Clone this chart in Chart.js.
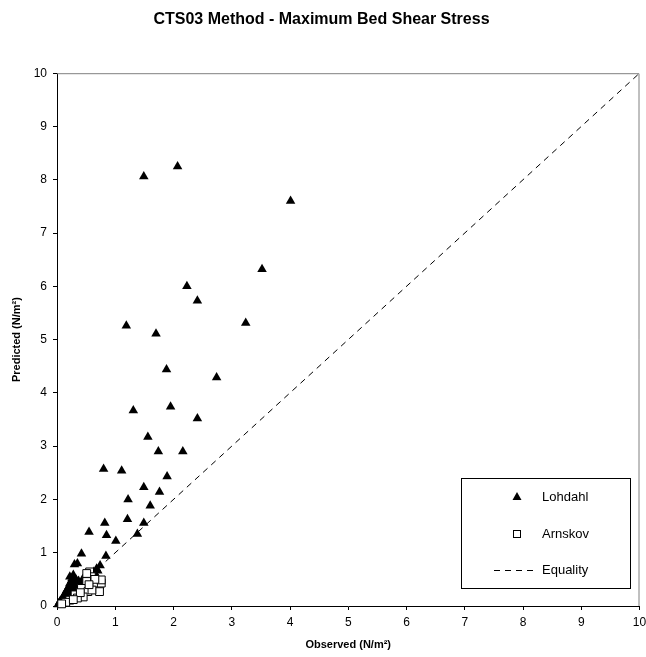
<!DOCTYPE html>
<html lang="en">
<head>
    <meta charset="UTF-8">
    <title>CTS03 Method - Maximum Bed Shear Stress</title>
    <style>
        body {
            margin: 0;
            padding: 0;
            background-color: #ffffff;
        }
        canvas {
            display: block;
        }
    </style>
</head>
<body>
    <canvas id="shearChart" width="646" height="657"></canvas>

    <script src="https://cdn.jsdelivr.net/npm/chart.js"></script>
    <script>
        // Lohdahl series (observed, predicted) in N/m2
        const lohdahlObserved = [
            1.49, 2.07, 4.01, 3.52, 2.23, 2.41, 1.19, 1.70, 3.24, 1.88,
            2.74, 1.31, 1.95, 2.41, 1.56, 1.74, 2.16, 0.80, 1.11, 1.89,
            1.49, 1.76, 1.22, 1.60, 0.82, 1.21, 1.49, 0.55, 0.85, 1.01,
            1.38, 0.42, 0.84, 0.74, 0.35, 0.30, 0.28,
            0.02, 0.04, 0.06, 0.08, 0.10, 0.12, 0.14, 0.15, 0.17, 0.18,
            0.20, 0.21, 0.22, 0.24, 0.25, 0.26, 0.27, 0.29, 0.30, 0.32,
            0.33, 0.35, 0.36, 0.38, 0.40, 0.42, 0.45, 0.48, 0.50, 0.55,
            0.60, 0.65, 0.70, 0.12, 0.20, 0.28, 0.34, 0.05, 0.09, 0.13,
            0.16, 0.19, 0.23, 0.26, 0.31, 0.37, 0.44, 0.52, 0.58, 0.63,
            0.68, 0.10, 0.18, 0.24, 0.30, 0.22
        ];
        const lohdahlPredicted = [
            8.06, 8.25, 7.60, 6.32, 6.00, 5.73, 5.26, 5.11, 5.31, 4.44,
            4.29, 3.67, 3.74, 3.52, 3.17, 2.90, 2.90, 2.57, 2.54, 2.43,
            2.23, 2.14, 2.00, 1.88, 1.56, 1.63, 1.56, 1.39, 1.33, 1.22,
            1.35, 0.98, 0.94, 0.76, 0.80, 0.78, 0.58,
            0.03, 0.06, 0.10, 0.05, 0.15, 0.20, 0.12, 0.26, 0.30, 0.18,
            0.36, 0.25, 0.42, 0.30, 0.48, 0.20, 0.38, 0.45, 0.28, 0.50,
            0.36, 0.30, 0.42, 0.25, 0.35, 0.40, 0.30, 0.45, 0.38, 0.50,
            0.55, 0.62, 0.66, 0.08, 0.12, 0.22, 0.24, 0.08, 0.13, 0.16,
            0.22, 0.28, 0.34, 0.52, 0.40, 0.47, 0.50, 0.56, 0.60, 0.64,
            0.70, 0.06, 0.10, 0.15, 0.18, 0.55
        ];

        // Arnskov series
        const arnskovObserved = [
            0.56, 0.59, 0.75, 0.62, 0.73, 0.51, 0.42, 0.31, 0.22, 0.51,
            0.68, 0.76, 0.73, 0.53, 0.45, 0.76, 0.60, 0.35, 0.15, 0.08,
            0.65, 0.40, 0.28, 0.55
        ];
        const arnskovPredicted = [
            0.64, 0.55, 0.47, 0.36, 0.39, 0.46, 0.33, 0.21, 0.11, 0.61,
            0.43, 0.43, 0.27, 0.27, 0.17, 0.49, 0.30, 0.15, 0.07, 0.04,
            0.50, 0.25, 0.12, 0.40
        ];

        // Equality line end points
        const equalityX = [0, 10];
        const equalityY = [0, 10];

        const legendLabels = ['Lohdahl', 'Arnskov', 'Equality'];

        function toPoints(xs, ys) {
            return xs.map((x, i) => ({ x: x, y: ys[i] }));
        }

        const fontFamily = "Arial, 'Liberation Sans', sans-serif";

        // plot area frame: gray on top and right like the excel original
        const frameLines = {
            id: 'frameLines',
            beforeDatasetsDraw(chart) {
                const { ctx, chartArea } = chart;
                ctx.save();
                ctx.strokeStyle = '#808080';
                ctx.lineWidth = 1;
                ctx.beginPath();
                ctx.moveTo(chartArea.left, chartArea.top + 0.5);
                ctx.lineTo(chartArea.right - 0.5, chartArea.top + 0.5);
                ctx.lineTo(chartArea.right - 0.5, chartArea.bottom);
                ctx.stroke();
                ctx.restore();
            }
        };

        // boxed legend inside the plot, bottom right
        const boxLegend = {
            id: 'boxLegend',
            afterDraw(chart) {
                const ctx = chart.ctx;
                const left = 461, top = 478, w = 169, h = 110;
                ctx.save();
                ctx.fillStyle = '#ffffff';
                ctx.fillRect(left, top, w, h);
                ctx.strokeStyle = '#000000';
                ctx.lineWidth = 1;
                ctx.strokeRect(left + 0.5, top + 0.5, w, h);

                const rows = [497, 534, 570];
                const mx = 517;

                // triangle
                ctx.fillStyle = '#000000';
                ctx.beginPath();
                ctx.moveTo(mx, rows[0] - 5);
                ctx.lineTo(mx + 4.5, rows[0] + 3);
                ctx.lineTo(mx - 4.5, rows[0] + 3);
                ctx.closePath();
                ctx.fill();

                // square
                ctx.strokeRect(mx - 3.5, rows[1] - 3.5, 7, 7);

                // dashed line
                ctx.setLineDash([6, 5]);
                ctx.beginPath();
                ctx.moveTo(494, rows[2] + 0.5);
                ctx.lineTo(533, rows[2] + 0.5);
                ctx.stroke();
                ctx.setLineDash([]);

                ctx.fillStyle = '#000000';
                ctx.font = '13px ' + fontFamily;
                ctx.textBaseline = 'middle';
                ctx.textAlign = 'left';
                legendLabels.forEach((label, i) => {
                    ctx.fillText(label, 542, rows[i]);
                });
                ctx.restore();
            }
        };

        const ctx = document.getElementById('shearChart').getContext('2d');
        const shearChart = new Chart(ctx, {
            type: 'scatter',
            data: {
                datasets: [
                    {
                        label: legendLabels[0],
                        data: toPoints(lohdahlObserved, lohdahlPredicted),
                        pointStyle: 'triangle',
                        pointRadius: 5.5,
                        backgroundColor: '#000000',
                        borderColor: '#000000',
                        borderWidth: 0,
                        clip: false,
                        order: 2
                    },
                    {
                        label: legendLabels[1],
                        data: toPoints(arnskovObserved, arnskovPredicted),
                        pointStyle: 'rect',
                        pointRadius: 5.5,
                        backgroundColor: '#ffffff',
                        borderColor: '#000000',
                        borderWidth: 1,
                        clip: false,
                        order: 1
                    },
                    {
                        label: legendLabels[2],
                        type: 'line',
                        data: toPoints(equalityX, equalityY),
                        borderColor: '#000000',
                        borderWidth: 1,
                        borderDash: [6, 5],
                        pointRadius: 0,
                        fill: false,
                        order: 3
                    }
                ]
            },
            options: {
                responsive: false,
                animation: false,
                layout: {
                    padding: { left: 0, right: 3, top: 0, bottom: 0 }
                },
                plugins: {
                    legend: { display: false },
                    tooltip: { enabled: false },
                    title: {
                        display: true,
                        text: 'CTS03 Method - Maximum Bed Shear Stress',
                        color: '#000000',
                        font: { family: fontFamily, size: 16, weight: 'bold' },
                        padding: { top: 10, bottom: 44 }
                    }
                },
                scales: {
                    x: {
                        type: 'linear',
                        min: 0,
                        max: 10,
                        ticks: {
                            stepSize: 1,
                            color: '#000000',
                            font: { family: fontFamily, size: 12 },
                            padding: 5
                        },
                        grid: {
                            drawOnChartArea: false,
                            drawTicks: true,
                            tickLength: 4,
                            color: '#000000'
                        },
                        border: { color: '#000000', width: 1 },
                        title: {
                            display: true,
                            text: 'Observed (N/m²)',
                            color: '#000000',
                            font: { family: fontFamily, size: 11, weight: 'bold' },
                            padding: { top: 4, bottom: 5 }
                        },
                        afterFit: scale => {
                            scale.height = 51;
                            scale.paddingLeft = 0;
                            scale.paddingRight = 0;
                        }
                    },
                    y: {
                        type: 'linear',
                        min: 0,
                        max: 10,
                        ticks: {
                            stepSize: 1,
                            color: '#000000',
                            font: { family: fontFamily, size: 12 },
                            padding: 6
                        },
                        grid: {
                            drawOnChartArea: false,
                            drawTicks: true,
                            tickLength: 4,
                            color: '#000000'
                        },
                        border: { color: '#000000', width: 1 },
                        title: {
                            display: true,
                            text: 'Predicted (N/m²)',
                            color: '#000000',
                            font: { family: fontFamily, size: 11, weight: 'bold' },
                            padding: { top: 10, bottom: 4 }
                        },
                        afterFit: scale => {
                            scale.width = 57;
                            scale.paddingTop = 0;
                            scale.paddingBottom = 0;
                        }
                    }
                }
            },
            plugins: [frameLines, boxLegend]
        });
    </script>
</body>
</html>
